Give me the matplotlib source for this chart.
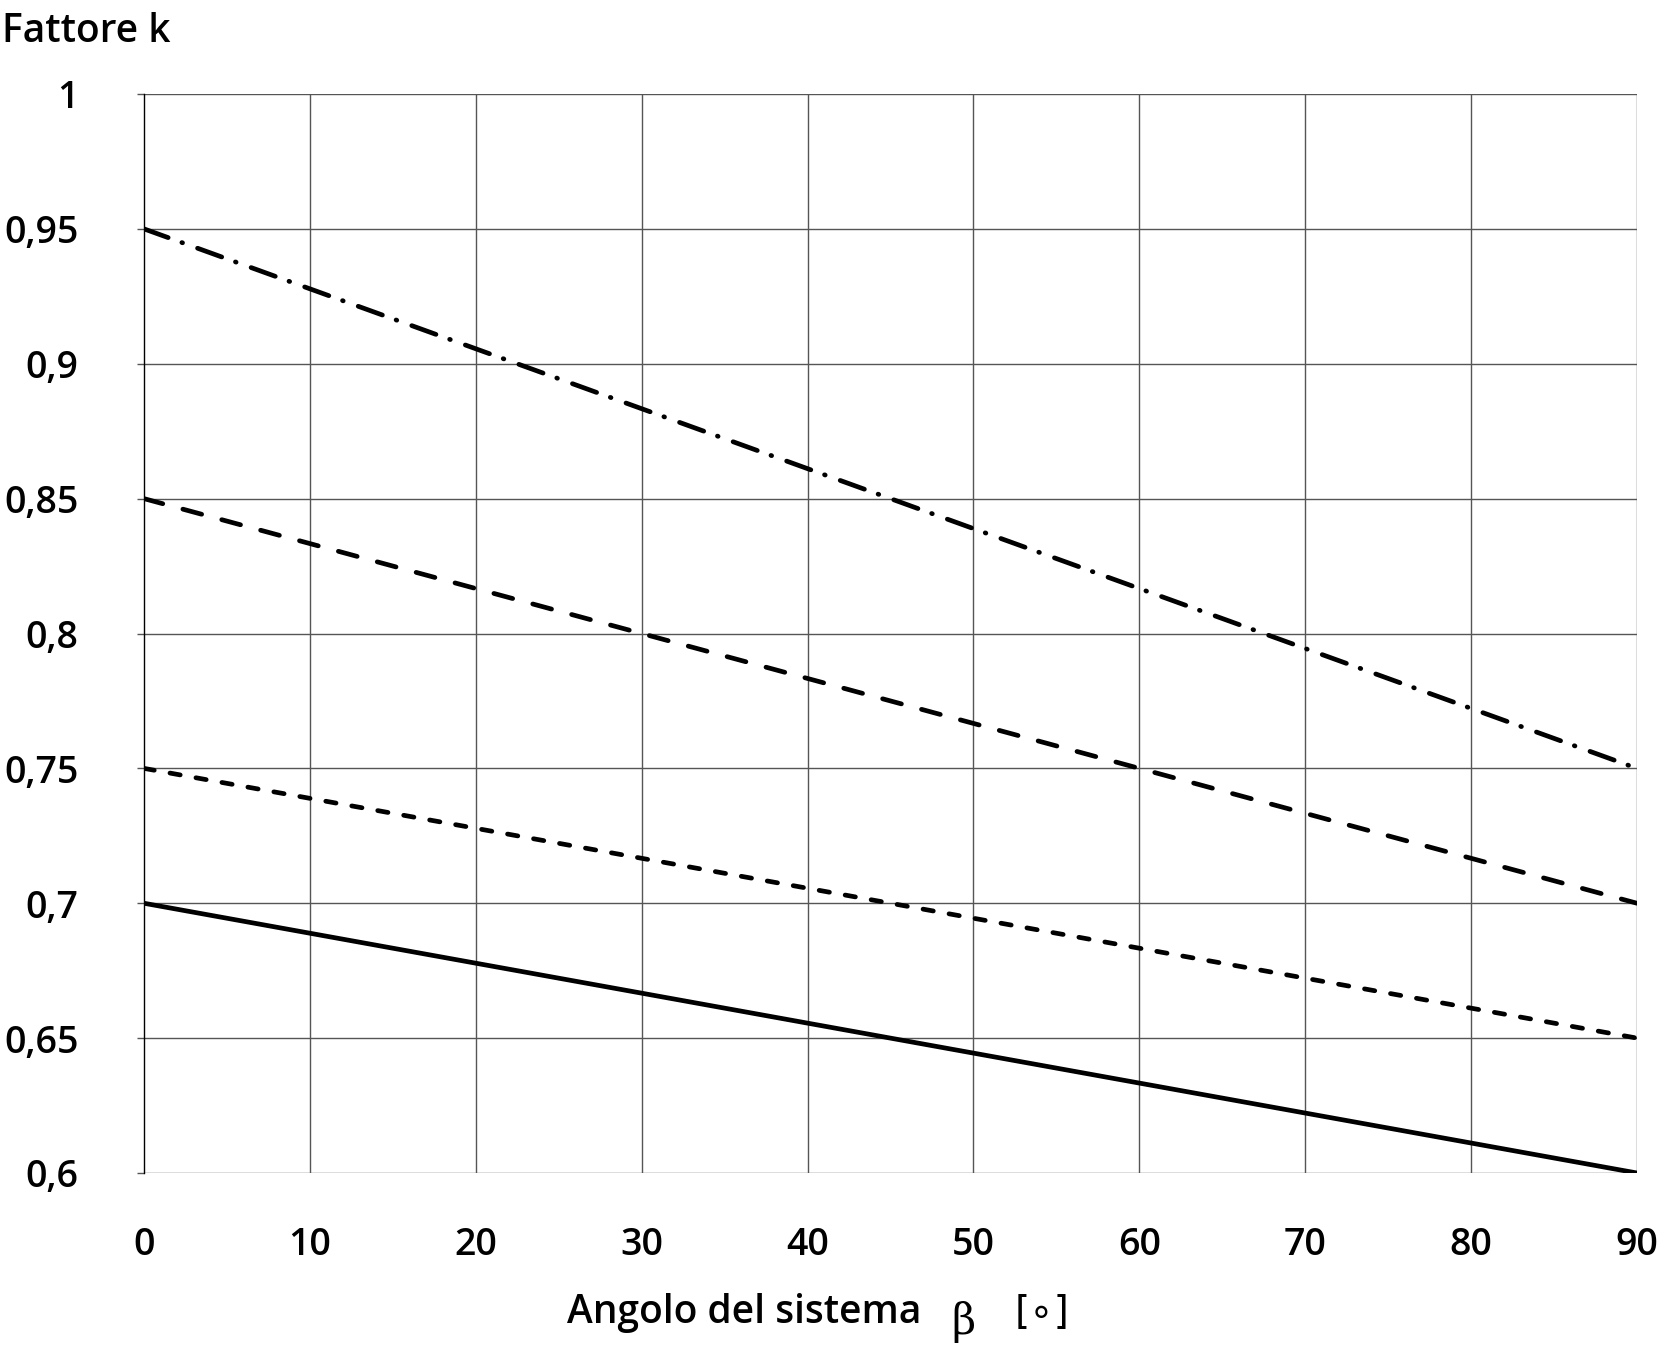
import matplotlib
matplotlib.use("Agg")
import matplotlib.pyplot as plt

# Data
angles = [0, 90]
k_dashdot = [0.95, 0.75]
k_dashed = [0.85, 0.70]
k_shortdash = [0.75, 0.65]
k_solid = [0.70, 0.60]
xticks = [0, 10, 20, 30, 40, 50, 60, 70, 80, 90]
yticks = [0.6, 0.65, 0.7, 0.75, 0.8, 0.85, 0.9, 0.95, 1.0]
ytick_labels = ["0,6", "0,65", "0,7", "0,75", "0,8", "0,85", "0,9", "0,95", "1"]

plt.rcParams['font.family'] = ['Open Sans', 'DejaVu Sans']
plt.rcParams['font.weight'] = 'semibold'
plt.rcParams['lines.scale_dashes'] = False

W, H = 1660, 1348
fig = plt.figure(figsize=(W/100, H/100), dpi=100)
ax = fig.add_axes([144/W, 1 - 1173/H, (1637-144)/W, (1173-94)/H])
ax.set_xlim(0, 90)
ax.set_ylim(0.6, 1.0)

grid_color = '#555555'
for x in xticks[1:]:
    ax.axvline(x, color=grid_color, lw=1.0, zorder=1)
for y in yticks:
    ax.axhline(y, color=grid_color, lw=1.0, zorder=1)

for s in ['top', 'right', 'bottom']:
    ax.spines[s].set_visible(False)
ax.spines['left'].set_color('black')
ax.spines['left'].set_linewidth(1.0)

lw = 3.4
ax.plot(angles, k_dashdot, color='black', lw=lw, dash_capstyle='round',
        linestyle=(0, (18.5, 10.5, 0.5, 11.5)), zorder=3)
ax.plot(angles, k_dashed, color='black', lw=lw, dash_capstyle='round',
        linestyle=(0, (14.0, 15.0)), zorder=3)
ax.plot(angles, k_shortdash, color='black', lw=lw, dash_capstyle='round',
        linestyle=(0, (7.5, 11.5)), zorder=3)
ax.plot(angles, k_solid, color='black', lw=lw, solid_capstyle='round', zorder=3)

ax.set_xticks(xticks)
ax.set_xticklabels([str(v) for v in xticks])
ax.set_yticks(yticks)
ax.set_yticklabels(ytick_labels)
ax.tick_params(axis='x', length=0, pad=38, labelsize=27)
ax.tick_params(axis='y', length=5, width=1.0, color=grid_color, pad=42, labelsize=27)

ylab = 1 - 1313/H
fig.text(921/W, ylab, "Angolo del sistema", ha='right', va='center', fontsize=28)
fig.text(963/W, 1 - 1322/H, "β", ha='center', va='center', fontsize=30,
         family=['DejaVu Serif'], fontweight='normal')
fig.text(1042/W, ylab, "[∘]", ha='center', va='center', fontsize=28,
         family=['DejaVu Sans'], fontweight='normal')
fig.text(2/W, 1 - 32/H, "Fattore k", ha='left', va='center', fontsize=28)

fig.savefig("out.png", dpi=100)
